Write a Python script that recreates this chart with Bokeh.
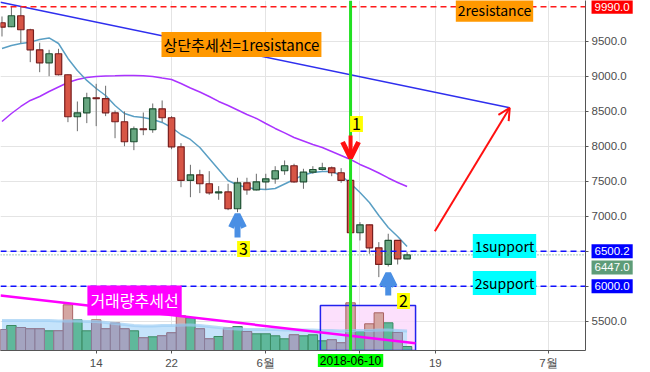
import pandas as pd
from bokeh.plotting import figure
from bokeh.models import (Range1d, FixedTicker, Span, Label, Arrow, OpenHead,
                          ColumnDataSource, PrintfTickFormatter, Column)
from bokeh.embed import file_html
from bokeh.resources import INLINE

# ---------------- data ----------------
dates = pd.date_range("2018-05-04", "2018-06-16").strftime("%Y-%m-%d").tolist()
opens = [9763, 9706, 9863, 9663, 9377, 9191, 9320, 9020, 8420, 8477,
         8691, 8680, 8477, 8349, 8063, 8248, 8236, 8534, 8406, 7991,
         7510, 7591, 7463, 7334, 7346, 7106, 7477, 7377, 7491, 7534,
         7649, 7720, 7491, 7629, 7667, 7691, 7620, 7510, 6763, 6877,
         6548, 6310, 6653, 6391]
highs = [9853, 9990, 9985, 9677, 9477, 9377, 9391, 9025, 8638, 8763,
         8891, 8863, 8510, 8496, 8281, 8481, 8610, 8653, 8429, 8043,
         7734, 7663, 7643, 7429, 7463, 7549, 7549, 7606, 7606, 7714,
         7796, 7749, 7677, 7714, 7763, 7710, 7686, 7520, 6914, 6880,
         6629, 6749, 6660, 6486]
lows = [9567, 9700, 9471, 9200, 9057, 9000, 9010, 8343, 8214, 8329,
        8286, 8429, 8114, 7999, 7943, 8157, 8191, 8343, 7957, 7414,
        7271, 7329, 7306, 7234, 7086, 7057, 7306, 7367, 7377, 7463,
        7591, 7477, 7391, 7606, 7653, 7571, 7477, 6653, 6653, 6463,
        6129, 6281, 6310, 6386]
closes = [9700, 9863, 9663, 9377, 9191, 9320, 9020, 8420, 8477, 8691,
          8680, 8477, 8349, 8063, 8248, 8236, 8534, 8406, 7991, 7510,
          7591, 7463, 7334, 7346, 7106, 7477, 7377, 7491, 7534, 7649,
          7720, 7491, 7629, 7667, 7691, 7620, 7510, 6763, 6877, 6548,
          6310, 6653, 6391, 6447]
volume = [21, 25, 23, 21.7, 21.7, 19.7, 19.7, 45.7, 30.7, 19.7,
          30.7, 21.7, 27.7, 21.7, 19.7, 12.7, 13.7, 14.7, 17.7, 34.7,
          32.7, 21.7, 11.7, 14, 22.7, 24, 19, 16.7, 16.7, 14.7,
          11.7, 15.7, 14.7, 15.7, 9.7, 10.7, 7.7, 47.7, 19, 26.7,
          37.7, 27.7, 18, 4]
volume_ma = [30, 30, 30, 30, 30, 30, 29.5, 29.5, 29.5, 29,
             29, 28, 27, 26, 25, 24.5, 24.5, 25, 25, 25.5,
             25.5, 25, 24, 23, 22, 21.5, 21, 21, 21, 21,
             20.5, 20.5, 20.5, 20.5, 20, 20, 19.5, 20, 20, 20,
             20.5, 20.5, 20, 19.5]
ma_short = [9396, 9439, 9467, 9486, 9524, 9546, 9467, 9253, 9081, 8939,
            8824, 8724, 8581, 8467, 8424, 8410, 8381, 8339, 8267, 8167,
            8096, 7981, 7824, 7667, 7510, 7446, 7410, 7389, 7381, 7396,
            7460, 7524, 7589, 7624, 7639, 7639, 7581, 7467, 7339, 7196,
            7010, 6839, 6710, 6567]
ma_long = [8353, 8467, 8567, 8653, 8710, 8781, 8846, 8910, 8953, 8981,
           8996, 9003, 9006, 9010, 9010, 9006, 8996, 8974, 8953, 8896,
           8831, 8774, 8710, 8639, 8581, 8517, 8453, 8396, 8324, 8253,
           8189, 8124, 8074, 8024, 7981, 7924, 7867, 7810, 7739, 7681,
           7617, 7546, 7481, 7424]

tick_dates = ["2018-05-14", "2018-05-22", "2018-06-01", "2018-06-11", "2018-06-19", "2018-07-01"]
tick_labels = ["14", "22", "6월", "", "19", "7월"]
price_ticks = [5500, 6000, 6500, 7000, 7500, 8000, 8500, 9000, 9500]

resistance2 = 9990.0
support1 = 6500.2
support2 = 6000.0
last_price = 6447.0
event_date = "2018-06-10"

# annotation geometry (day offsets from first date, prices / volume units)
trend_x = [-0.16, 53.9]
trend_y = [10057, 8548]
vol_trend_x = [-0.16, 43.9]
vol_trend_y = [55, 7.3]
vol_box = dict(left=33.8, right=43.9, top=45, bottom=0)

# ---------------- derived ----------------
base = pd.Timestamp(dates[0])
day = lambda s: (pd.Timestamp(s) - base).days
xs = [day(d) for d in dates]
up = [c >= o for o, c in zip(opens, closes)]
src = ColumnDataSource(dict(
    x=xs, open=opens, close=closes, high=highs, low=lows,
    top=[max(o, c) for o, c in zip(opens, closes)],
    bottom=[min(o, c) for o, c in zip(opens, closes)],
    fill=["#67a680" if u else "#d75546" for u in up],
    line=["#1e5032" if u else "#781e1e" for u in up],
))
vsrc_g = ColumnDataSource(dict(x=[x for x, u in zip(xs, up) if u],
                               v=[v for v, u in zip(volume, up) if u]))
vsrc_r = ColumnDataSource(dict(x=[x for x, u in zip(xs, up) if not u],
                               v=[v for v, u in zip(volume, up) if not u],
                               vlow=[min(v, m) for v, m, u in zip(volume, volume_ma, up) if not u]))

X_RANGE = (-0.159, 61.94)
Y_RANGE = (5081, 10081)
p = figure(width=650, height=372, x_range=Range1d(*X_RANGE), y_range=Range1d(*Y_RANGE),
           y_axis_location="right", output_backend="svg", toolbar_location=None,
           min_border_left=0, min_border_top=0, min_border_right=65, min_border_bottom=22)
p.extra_y_ranges = {"vol": Range1d(0, 350)}
p.outline_line_color = None
p.background_fill_color = "white"
p.border_fill_color = "white"

tick_x = [day(d) for d in tick_dates]
p.xaxis.ticker = FixedTicker(ticks=tick_x)
p.xaxis.major_label_overrides = {t: l for t, l in zip(tick_x, tick_labels)}
p.yaxis.ticker = FixedTicker(ticks=price_ticks)
p.yaxis.formatter = PrintfTickFormatter(format="%.1f")
for ax in (p.xaxis, p.yaxis):
    ax.axis_line_color = "#555555"
    ax.major_tick_line_color = "#555555"
    ax.major_tick_out = 3
    ax.major_tick_in = 0
    ax.minor_tick_line_color = None
    ax.major_label_text_font = "Liberation Sans"
    ax.major_label_text_font_size = "11.5px"
    ax.major_label_text_color = "#4d4d4d"
    ax.major_label_standoff = 3
p.xgrid.ticker = FixedTicker(ticks=tick_x)
p.ygrid.ticker = FixedTicker(ticks=price_ticks)
p.grid.grid_line_color = "#e4e4e4"

# volume panel
p.quad(left=[vol_box["left"]], right=[vol_box["right"]], top=[vol_box["top"]], bottom=[vol_box["bottom"]],
       fill_color="#fbd8fb", fill_alpha=0.8, line_color=None, y_range_name="vol")
p.varea(x=xs, y1=[0] * len(xs), y2=volume_ma, fill_color="#c2e1fb", fill_alpha=0.95, y_range_name="vol")
p.vbar(x="x", top="v", bottom=0, width=1.0, source=vsrc_g, fill_color="#5fb89b",
       line_color="#3a8a62", y_range_name="vol")
p.vbar(x="x", top="v", bottom=0, width=1.0, source=vsrc_r, fill_color="#d4a6a2",
       line_color="#aa6262", y_range_name="vol")
p.vbar(x="x", top="vlow", bottom=0, width=1.0, source=vsrc_r, fill_color="#a4a4c0",
       line_color="#8a7c98", y_range_name="vol")
p.line(xs, volume_ma, line_color="#9ccdf4", line_width=3, line_alpha=0.7, y_range_name="vol")
p.quad(left=[vol_box["left"]], right=[vol_box["right"]], top=[vol_box["top"]], bottom=[vol_box["bottom"]],
       fill_color=None, line_color="#2222ee", line_width=1.5, y_range_name="vol")
p.line(vol_trend_x, vol_trend_y, line_color="#ff00ff", line_width=2.5, y_range_name="vol")

# moving averages
p.line(xs, ma_long, line_color="#aa33ff", line_width=1.5)
p.line(xs, ma_short, line_color="#5a9fc4", line_width=1.5)

# candles
p.segment(x0="x", y0="high", x1="x", y1="low", source=src, line_color="#6b6b6b", line_width=1)
p.vbar(x="x", top="top", bottom="bottom", width=0.68, source=src,
       fill_color="fill", line_color="line", line_width=1.2)

# trend line
p.line(trend_x, trend_y, line_color="#2f2fee", line_width=1.5)

# horizontal levels
p.add_layout(Span(location=resistance2, dimension="width", line_color="#ff1a1a", line_width=1.5, line_dash="6 4"))
p.add_layout(Span(location=support1, dimension="width", line_color="#1010ff", line_width=1.5, line_dash="6 4"))
p.add_layout(Span(location=support2, dimension="width", line_color="#1010ff", line_width=1.5, line_dash="6 4"))
p.add_layout(Span(location=last_price, dimension="width", line_color="#4f8f6a", line_width=1, line_dash="1 2"))
p.add_layout(Span(location=day(event_date), dimension="height", line_color="#22e022", line_width=3))

# arrows
p.add_layout(Arrow(end=OpenHead(size=12, line_color="#ff1010", line_width=2),
                   x_start=45.95, y_start=6786, x_end=trend_x[1], y_end=trend_y[1],
                   line_color="#ff1010", line_width=2))
p.add_layout(Arrow(end=OpenHead(size=16, line_color="#ff1010", line_width=5),
                   x_start=day(event_date), y_start=8153, x_end=day(event_date), y_end=7831,
                   line_color="#ff1010", line_width=4))
for ax_, y0, y1 in [(25, 6696, 7024), (41, 5867, 6181)]:
    p.add_layout(Arrow(end=OpenHead(size=13, line_color="#4a8fe4", line_width=6),
                       x_start=ax_, y_start=y0, x_end=ax_, y_end=y1,
                       line_color="#4a8fe4", line_width=6))

KR = "Noto Sans CJK KR"
def lab(fig, x, y, text, bg, color="black", size="14px", align="center", baseline="middle", font=KR, pad=2):
    fig.add_layout(Label(x=x, y=y, text=text, text_font=font, text_font_size=size, text_color=color,
                         text_align=align, text_baseline=baseline, background_fill_color=bg,
                         background_fill_alpha=1.0, padding=pad))

lab(p, 16.93, 9453, "상단추세선=1resistance", "#ff9800", size="15px", align="left")
lab(p, 52.28, 9950, "2resistance", "#ff9800")
lab(p, 37.63, 8317, "1", "#ffff00", size="16px")
lab(p, 25.64, 6531, "3", "#ffff00", size="16px")
lab(p, 42.62, 5788, "2", "#ffff00", size="16px")
lab(p, 53.34, 6574, "1support", "#00ffff")
lab(p, 53.34, 6046, "2support", "#00ffff")
lab(p, 14.07, 5796, "거래량추세선", "#ff00ff", color="white", size="16px", pad=3)

# transparent overlay covering the whole canvas, same scales, for the tags on the axes
px_per_day = 585 / (X_RANGE[1] - X_RANGE[0])
px_per_price = 350 / (Y_RANGE[1] - Y_RANGE[0])
ov = figure(frame_width=650, frame_height=372,
            x_range=Range1d(X_RANGE[0], X_RANGE[0] + 650 / px_per_day),
            y_range=Range1d(Y_RANGE[1] - 372 / px_per_price, Y_RANGE[1]),
            x_axis_location=None, y_axis_location=None, output_backend="svg",
            toolbar_location=None, min_border=0,
            min_border_left=0, min_border_right=0, min_border_top=0, min_border_bottom=0)
if hasattr(ov, "frame_align"):
    ov.frame_align = False
    p.frame_align = False
ov.grid.visible = False
ov.outline_line_color = None
ov.background_fill_color = None
ov.border_fill_color = None
ov.margin = (-372, 0, 0, 0)

lab(ov, day(event_date), 4938, event_date, "#00ff00", size="12px", font="Liberation Sans")
for yv, txt, bg in [(resistance2, "%.1f" % resistance2, "#ff0000"),
                    (support1, "%.1f" % support1, "#0000ff"),
                    (6267, "%.1f" % last_price, "#5e9c78"),
                    (support2, "%.1f" % support2, "#0000ff")]:
    lab(ov, 62.58, yv, txt, bg, color="white", size="11.5px", align="left", font="Liberation Sans", pad=3)

layout = Column(children=[p, ov])
open("out.html", "w").write(file_html(layout, INLINE))
